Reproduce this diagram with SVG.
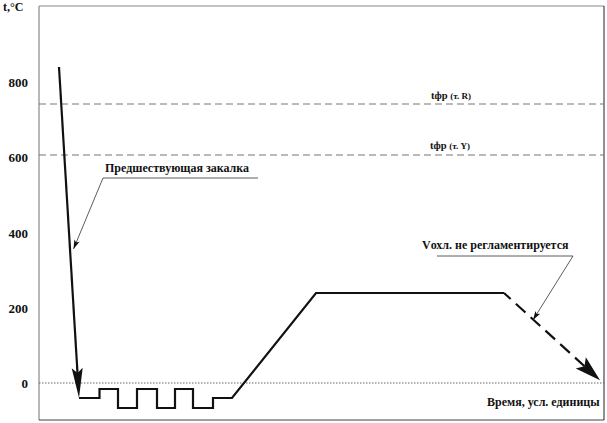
<svg xmlns="http://www.w3.org/2000/svg" width="607" height="423" viewBox="0 0 607 423">
<style>
text{font-family:'Liberation Serif','DejaVu Serif',serif;font-weight:bold;fill:#111}
.tick{font-size:13px;text-anchor:end}
.lbl{font-size:12px}
.curve{fill:none;stroke:#111;stroke-width:2.2;stroke-linejoin:miter}
.leader{fill:none;stroke:#333;stroke-width:0.8}
.ref{stroke:#777;stroke-width:1;stroke-dasharray:7,4}
</style>
<defs>
<marker id="bigArrow" markerUnits="userSpaceOnUse" viewBox="-1 -7 32 14" refX="5" refY="0" markerWidth="32" markerHeight="14" orient="auto">
<path d="M30,0 L0,-5.5 L5,0 L0,5.5 Z" fill="#111"/>
</marker>
<marker id="endArrow" markerUnits="userSpaceOnUse" viewBox="-1 -9 28 18" refX="5" refY="0" markerWidth="28" markerHeight="18" orient="auto">
<path d="M26,0 L0,-7.5 L5,0 L0,7.5 Z" fill="#111"/>
</marker>
<marker id="smallArrow" markerUnits="userSpaceOnUse" viewBox="-1 -4 11 8" refX="9" refY="0" markerWidth="11" markerHeight="8" orient="auto">
<path d="M9,0 L0,-2.8 L2,0 L0,2.8 Z" fill="#111"/>
</marker>
</defs>

<g id="frame">
<line x1="39" y1="6" x2="39" y2="420" stroke="#888" stroke-width="1.2"/>
<line x1="39" y1="6" x2="604" y2="6" stroke="#888" stroke-width="1.2"/>
<line x1="604" y1="6" x2="604" y2="420" stroke="#444" stroke-width="1.2"/>
<line x1="39" y1="420" x2="604" y2="420" stroke="#444" stroke-width="1.2"/>
</g>

<g id="axis-labels">
<text x="3" y="11" class="lbl" font-family="Liberation Serif, serif">t,°C</text>
<text x="28" y="87" class="tick" font-family="Liberation Serif, serif">800</text>
<text x="28" y="162" class="tick" font-family="Liberation Serif, serif">600</text>
<text x="28" y="238" class="tick" font-family="Liberation Serif, serif">400</text>
<text x="28" y="313" class="tick" font-family="Liberation Serif, serif">200</text>
<text x="28" y="388" class="tick" font-family="Liberation Serif, serif">0</text>
<text x="487" y="406" class="lbl" font-family="Liberation Serif, serif">Время, усл. единицы</text>
</g>

<g id="reference-lines">
<line x1="39" y1="104" x2="604" y2="104" class="ref"/>
<line x1="39" y1="155" x2="604" y2="155" class="ref"/>
<line x1="39" y1="383" x2="604" y2="383" stroke="#666" stroke-width="1" stroke-dasharray="1.5,1.5"/>
<text x="431" y="99" font-size="10.5" font-family="Liberation Serif, serif">tфр <tspan font-size="9">(т. R)</tspan></text>
<text x="430" y="149" font-size="10.5" font-family="Liberation Serif, serif">tфр <tspan font-size="9">(т. Y)</tspan></text>
</g>

<g id="connectors">
<path class="curve" d="M59,67 L77.5,373" stroke-width="2.6" marker-end="url(#bigArrow)"/>
<path class="curve" d="M79,398 H99.5 V389 H118 V408 H137 V389 H157 V408 H175 V389 H193 V408 H213 V398 H232 L316,293 H504"/>
<path class="curve" d="M504,293 L584.5,366.2" stroke-width="2.6" stroke-dasharray="9,7,13,7,13,7,13,7,13,7,13,7" marker-end="url(#endArrow)"/>
</g>

<g id="label-quench">
<text x="105" y="172" class="lbl" font-family="Liberation Serif, serif">Предшествующая закалка</text>
<path class="leader" d="M258,178 H103 L73.5,249" marker-end="url(#smallArrow)"/>
</g>

<g id="label-cooling">
<text x="422" y="249" class="lbl" font-family="Liberation Serif, serif">Vохл. не регламентируется</text>
<path class="leader" d="M437,256 H573 L533,320" marker-end="url(#smallArrow)"/>
</g>
</svg>
